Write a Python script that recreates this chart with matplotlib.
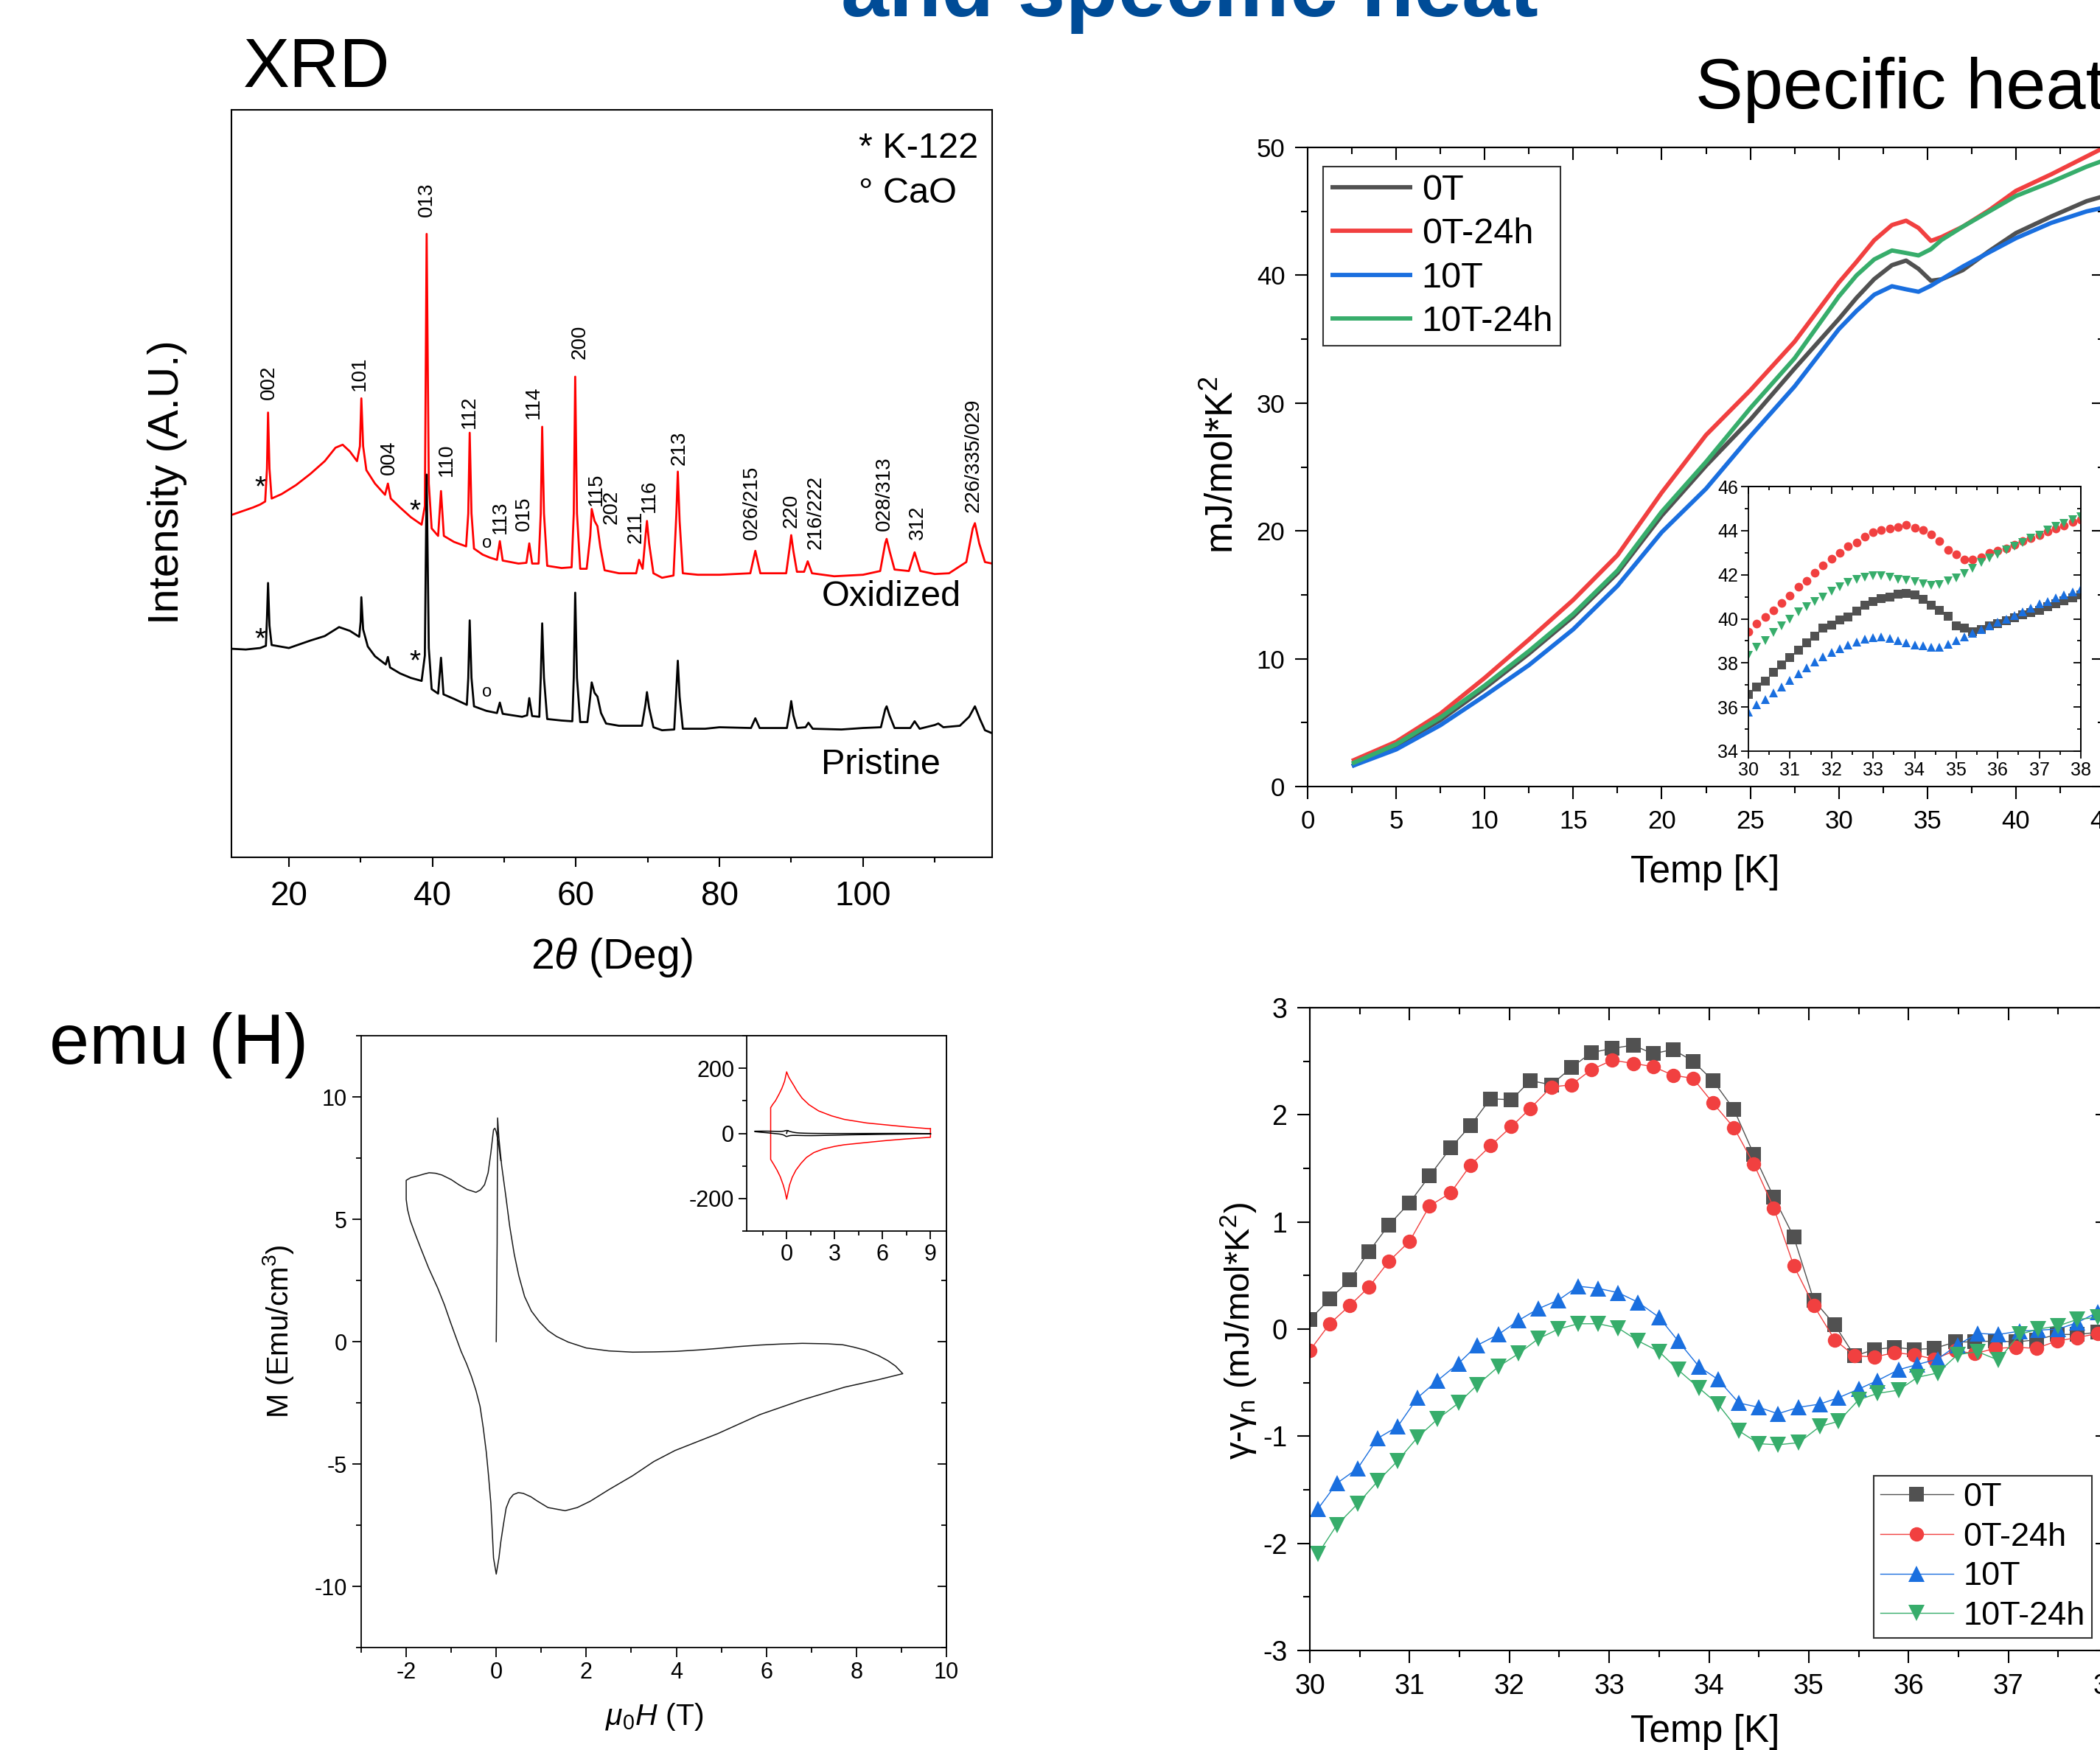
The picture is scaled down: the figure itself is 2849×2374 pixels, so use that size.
import matplotlib
matplotlib.use("Agg")
import matplotlib.pyplot as plt
from matplotlib.ticker import MultipleLocator, NullLocator

plt.rcParams['font.family'] = ['Liberation Sans', 'DejaVu Sans']
plt.rcParams['mathtext.fontset'] = 'custom'
plt.rcParams['mathtext.rm'] = 'Liberation Sans'
plt.rcParams['mathtext.it'] = 'Liberation Sans:italic'
plt.rcParams['mathtext.bf'] = 'Liberation Sans:bold'
plt.rcParams['axes.unicode_minus'] = False

# ======================= DATA =======================
# --- XRD, oxidized sample (red), vertices (arb. units 0-100)
xrd_ox_2theta = [12.0, 13.5, 15.0, 16.0, 16.7, 16.95, 17.1, 17.3, 17.6, 19.0, 21.0, 23.0, 25.0, 26.5,
                 27.5, 28.5, 29.5, 29.9, 30.1, 30.35, 30.8, 32.0, 33.4, 33.8, 34.2, 35.5, 37.0, 38.5,
                 38.95, 39.2, 39.5, 39.9, 40.8, 41.2, 41.6, 43.0, 44.7, 45.0, 45.2, 45.45, 45.8, 47.0,
                 48.0, 49.0, 49.4, 49.8, 52.0, 53.1, 53.5, 53.9, 54.8, 55.1, 55.3, 55.55, 56.0, 58.0,
                 59.4, 59.7, 59.9, 60.15, 60.6, 61.5, 62.0, 62.2, 62.6, 63.0, 63.4, 64.0, 66.0, 68.4,
                 68.8, 69.3, 69.7, 69.9, 70.2, 70.8, 72.0, 73.6, 74.0, 74.2, 74.45, 74.9, 77.0, 80.0,
                 84.3, 85.0, 85.7, 89.3, 89.8, 90.0, 90.3, 90.8, 91.8, 92.3, 92.9, 96.0, 100.0, 102.4,
                 103.1, 103.3, 103.7, 104.4, 106.4, 107.2, 108.0, 110.0, 112.0, 114.4, 115.3, 115.6,
                 116.2, 117.0, 118.0]
xrd_ox_int = [45.8, 46.3, 46.8, 47.2, 47.6, 52.0, 59.5, 52.0, 48.0, 48.6, 49.8, 51.3, 53.0, 54.8,
              55.2, 54.3, 53.0, 55.0, 61.4, 55.0, 51.8, 50.0, 48.5, 50.0, 48.0, 46.8, 45.5, 44.5,
              47.0, 83.4, 50.0, 44.0, 43.0, 49.0, 43.0, 42.2, 41.6, 46.0, 56.8, 46.0, 41.3, 40.5,
              40.1, 39.8, 42.3, 39.7, 39.3, 39.4, 42.0, 39.3, 39.3, 46.0, 57.6, 46.0, 39.0, 38.7,
              38.8, 46.0, 64.3, 46.0, 38.6, 38.6, 43.0, 46.6, 45.0, 44.3, 41.5, 38.4, 38.0, 38.0,
              39.8, 38.6, 43.0, 45.0, 42.0, 38.0, 37.4, 37.7, 46.0, 51.6, 45.0, 38.0, 37.8, 37.8,
              38.0, 41.0, 38.0, 38.0, 41.5, 43.1, 41.0, 38.2, 38.2, 39.6, 38.0, 37.6, 37.8, 38.3,
              42.0, 42.6, 41.0, 38.5, 38.3, 40.8, 38.3, 37.9, 38.0, 39.5, 44.0, 44.7,
              42.0, 39.5, 39.3]

# --- XRD, pristine sample (black)
xrd_pr_2theta = [12.0, 14.0, 16.0, 16.8, 16.95, 17.1, 17.3, 17.6, 20.0, 23.0, 25.0, 27.0, 28.5, 29.8,
                 30.0, 30.1, 30.35, 31.0, 32.0, 33.5, 33.8, 34.1, 35.5, 37.0, 38.5, 38.95, 39.2, 39.5,
                 39.9, 40.8, 41.2, 41.55, 43.0, 44.8, 45.0, 45.2, 45.45, 45.8, 47.5, 49.0, 49.4, 49.8,
                 52.5, 53.2, 53.5, 53.9, 54.9, 55.1, 55.3, 55.55, 56.0, 58.0, 59.5, 59.7, 59.9, 60.15,
                 60.6, 61.6, 62.0, 62.2, 62.6, 63.0, 63.5, 64.2, 66.0, 69.2, 69.7, 69.9, 70.2, 70.8,
                 72.0, 73.7, 74.0, 74.2, 74.45, 74.9, 78.0, 80.0, 84.4, 85.0, 85.6, 89.4, 89.8, 90.0,
                 90.3, 90.8, 92.0, 92.4, 93.0, 97.0, 100.0, 102.5, 103.1, 103.3, 103.7, 104.4, 106.6,
                 107.2, 107.9, 110.0, 110.5, 111.2, 113.5, 114.8, 115.6, 116.3, 117.0, 118.0]
xrd_pr_int = [27.9, 27.8, 28.0, 28.3, 32.0, 36.7, 31.0, 28.4, 28.0, 29.0, 29.6, 30.8, 30.3, 29.5,
              31.5, 34.8, 30.5, 28.2, 26.9, 25.8, 26.8, 25.4, 24.6, 24.0, 23.6, 27.0, 51.2, 28.0,
              22.5, 21.9, 26.7, 21.8, 21.2, 20.4, 24.0, 31.7, 24.0, 20.2, 19.6, 19.3, 20.7, 19.2,
              18.8, 19.0, 21.3, 18.9, 18.8, 24.0, 31.3, 24.0, 18.5, 18.3, 18.2, 24.0, 35.4, 24.0,
              18.1, 18.1, 21.5, 23.4, 22.0, 21.5, 19.3, 17.9, 17.6, 17.6, 20.5, 22.1, 20.0, 17.4,
              17.0, 17.1, 22.5, 26.3, 21.5, 17.2, 17.2, 17.4, 17.3, 18.6, 17.3, 17.3, 19.5, 20.9,
              19.0, 17.3, 17.4, 18.0, 17.2, 17.1, 17.3, 17.4, 19.8, 20.2, 19.0, 17.3, 17.3,
              18.2, 17.2, 17.7, 17.9, 17.4, 17.6, 18.8, 20.2, 18.5, 17.0, 16.6]

hkl_labels = ["002", "101", "004", "013", "110", "112", "113", "015", "114", "200", "115", "202",
              "211", "116", "213", "026/215", "220", "216/222", "028/313", "312", "226/335/029"]
hkl_pos = [17.2, 29.9, 34.0, 39.2, 42.0, 45.2, 49.5, 52.8, 54.1, 60.5, 62.8, 65.0,
           68.3, 70.2, 74.4, 84.5, 90.0, 93.4, 103.0, 107.6, 115.4]
hkl_base = [61.2, 62.4, 51.2, 85.7, 51.0, 57.4, 43.3, 43.7, 58.7, 66.7, 47.0, 44.6,
            42.0, 46.2, 52.5, 42.5, 44.1, 41.2, 43.7, 42.5, 46.2]

# --- Specific heat, main panel (mJ/mol*K^2 vs T)
sh_T = [2.5, 5, 7.5, 10, 12.5, 15, 17.5, 20, 22.5, 25, 27.5, 30, 31, 32, 33, 33.8, 34.5, 35.2,
        35.8, 37, 38.5, 40, 42, 44, 45]
sh_0T = [1.6, 3.2, 5.2, 7.7, 10.4, 13.3, 16.7, 21.2, 25.1, 28.7, 32.7, 36.58, 38.23, 39.70, 40.79,
         41.15, 40.5, 39.57, 39.68, 40.40, 41.9, 43.3, 44.6, 45.8, 46.2]
sh_0T24 = [2.0, 3.5, 5.7, 8.5, 11.5, 14.6, 18.1, 23.0, 27.5, 31.0, 34.8, 39.43, 41.05, 42.74, 43.93,
           44.27, 43.7, 42.69, 42.99, 43.8, 45.1, 46.6, 47.9, 49.3, 50.0]
sh_10T = [1.6, 2.9, 4.8, 7.1, 9.5, 12.3, 15.7, 19.9, 23.3, 27.4, 31.3, 35.78, 37.21, 38.48, 39.14,
          38.90, 38.71, 39.18, 39.68, 40.68, 41.8, 42.9, 44.1, 45.0, 45.3]
sh_10T24 = [1.8, 3.3, 5.4, 7.9, 10.6, 13.5, 16.9, 21.5, 25.4, 29.6, 33.5, 38.34, 39.99, 41.24, 41.94,
            41.74, 41.55, 42.04, 42.76, 43.8, 45.0, 46.2, 47.3, 48.5, 49.0]

# --- Specific heat, inset (30-38 K)
ins_T = [30.0, 30.2, 30.4, 30.6, 30.8, 31.0, 31.2, 31.4, 31.6, 31.8, 32.0, 32.2, 32.4, 32.6, 32.8,
         33.0, 33.2, 33.4, 33.6, 33.8, 34.0, 34.2, 34.4, 34.6, 34.8, 35.0, 35.2, 35.4, 35.6, 35.8,
         36.0, 36.2, 36.4, 36.6, 36.8, 37.0, 37.2, 37.4, 37.6, 37.8, 38.0]
ins_0T = [36.58, 36.90, 37.17, 37.56, 37.92, 38.23, 38.57, 38.90, 39.23, 39.57, 39.70, 39.96, 40.10,
          40.35, 40.63, 40.79, 40.93, 41.00, 41.13, 41.15, 41.10, 40.90, 40.63, 40.37, 40.12, 39.68,
          39.57, 39.43, 39.51, 39.68, 39.79, 39.90, 40.04, 40.18, 40.29, 40.40, 40.55, 40.68, 40.82,
          40.96, 41.07]
ins_0T24 = [39.43, 39.79, 40.10, 40.40, 40.71, 41.05, 41.46, 41.71, 42.10, 42.43, 42.74, 42.99, 43.30,
            43.47, 43.74, 43.93, 44.02, 44.08, 44.16, 44.27, 44.13, 44.02, 43.82, 43.52, 43.13, 42.91,
            42.69, 42.69, 42.80, 42.99, 43.08, 43.19, 43.35, 43.52, 43.65, 43.80, 43.97, 44.08, 44.24,
            44.38, 44.49]
ins_10T = [35.78, 36.09, 36.34, 36.65, 36.90, 37.21, 37.51, 37.79, 38.03, 38.29, 38.48, 38.66, 38.81,
           38.96, 39.07, 39.14, 39.18, 39.12, 39.01, 38.90, 38.81, 38.77, 38.70, 38.72, 38.84, 39.01,
           39.18, 39.35, 39.51, 39.68, 39.85, 40.00, 40.15, 40.33, 40.49, 40.68, 40.79, 40.96, 41.07,
           41.21, 41.35]
ins_10T24 = [38.34, 38.70, 39.01, 39.37, 39.68, 39.99, 40.31, 40.55, 40.77, 40.99, 41.24, 41.46, 41.66,
             41.80, 41.88, 41.94, 41.94, 41.88, 41.80, 41.74, 41.68, 41.59, 41.52, 41.57, 41.71, 41.85,
             42.04, 42.30, 42.57, 42.76, 42.93, 43.13, 43.30, 43.47, 43.65, 43.80, 44.02, 44.19, 44.33,
             44.49, 44.63]

# --- gamma - gamma_n panel
dg_T_a = [30.00, 30.20, 30.40, 30.59, 30.79, 31.00, 31.20, 31.41, 31.61, 31.81, 32.02, 32.21, 32.42,
          32.62, 32.82, 33.03, 33.24, 33.44, 33.64, 33.84, 34.04, 34.25, 34.45, 34.65, 34.85, 35.05,
          35.26, 35.46, 35.66, 35.86, 36.06, 36.26, 36.47, 36.66, 36.87, 37.08, 37.28, 37.49, 37.69,
          37.90]
dg_0T = [0.09, 0.28, 0.46, 0.72, 0.97, 1.18, 1.43, 1.69, 1.90, 2.15, 2.14, 2.32, 2.28, 2.44, 2.58,
         2.62, 2.65, 2.57, 2.61, 2.50, 2.32, 2.05, 1.63, 1.23, 0.86, 0.27, 0.04, -0.25, -0.19, -0.17,
         -0.19, -0.18, -0.12, -0.12, -0.11, -0.12, -0.10, -0.05, -0.05, -0.03]
dg_0T24 = [-0.20, 0.05, 0.22, 0.39, 0.63, 0.82, 1.15, 1.27, 1.53, 1.71, 1.89, 2.06, 2.26, 2.28, 2.42,
           2.51, 2.48, 2.45, 2.37, 2.34, 2.11, 1.88, 1.54, 1.13, 0.59, 0.22, -0.10, -0.25, -0.26,
           -0.22, -0.24, -0.28, -0.20, -0.23, -0.18, -0.17, -0.18, -0.11, -0.08, -0.04]
dg_T_b = [30.08, 30.27, 30.48, 30.68, 30.88, 31.08, 31.28, 31.49, 31.68, 31.89, 32.09, 32.29, 32.49,
          32.69, 32.89, 33.09, 33.29, 33.50, 33.69, 33.90, 34.09, 34.30, 34.50, 34.69, 34.90, 35.11,
          35.30, 35.50, 35.69, 35.90, 36.09, 36.29, 36.49, 36.69, 36.90, 37.11, 37.30, 37.50, 37.69,
          37.90]
dg_10T = [-1.68, -1.44, -1.30, -1.02, -0.91, -0.64, -0.48, -0.32, -0.15, -0.05, 0.08, 0.19, 0.27,
          0.40, 0.38, 0.34, 0.25, 0.11, -0.11, -0.35, -0.47, -0.69, -0.73, -0.79, -0.73, -0.70, -0.64,
          -0.56, -0.48, -0.38, -0.33, -0.28, -0.15, -0.04, -0.05, -0.02, -0.01, 0.00, 0.06, 0.16]
dg_10T24 = [-2.10, -1.83, -1.63, -1.42, -1.23, -1.01, -0.84, -0.69, -0.52, -0.35, -0.23, -0.09, 0.00,
            0.05, 0.05, 0.01, -0.11, -0.21, -0.38, -0.55, -0.70, -0.95, -1.07, -1.08, -1.06, -0.91,
            -0.86, -0.66, -0.60, -0.57, -0.45, -0.41, -0.24, -0.21, -0.29, -0.05, 0.00, 0.03, 0.09,
            0.11]

# --- M(H) loop (Emu/cm^3 vs T)
emu_H = [0.0, 0.02, 0.03, 0.06, 0.12, 0.21, 0.30, 0.40, 0.50, 0.63, 0.78, 0.96, 1.15, 1.34, 1.6, 2.0,
         2.5, 3.03, 3.5, 3.97, 4.5, 4.92, 5.4, 5.86, 6.3, 6.8, 7.36, 7.7, 7.93, 8.2, 8.49, 8.7, 8.87,
         9.03, 8.5, 7.74, 6.8, 5.86, 4.92, 3.97, 3.5, 3.03, 2.5, 2.09, 1.8, 1.53, 1.15, 0.9, 0.77, 0.6,
         0.49, 0.38, 0.30, 0.22, 0.16, 0.10, 0.06, 0.0, -0.06, -0.09, -0.12, -0.17, -0.22, -0.29,
         -0.36, -0.45, -0.55, -0.66, -0.78, -0.9, -1.02, -1.15, -1.30, -1.5, -1.68, -1.8, -1.91,
         -1.97, -2.0, -2.0, -1.9, -1.77, -1.6, -1.49, -1.35, -1.21, -1.0, -0.83, -0.65, -0.45, -0.35,
         -0.26, -0.18, -0.12, -0.06, -0.03, 0.0, 0.05, 0.1]
emu_M = [0.0, 4.0, 9.14, 8.3, 7.2, 5.98, 4.7, 3.57, 2.7, 1.84, 1.25, 0.81, 0.45, 0.21, -0.02, -0.26,
         -0.38, -0.43, -0.42, -0.40, -0.34, -0.28, -0.20, -0.14, -0.10, -0.07, -0.09, -0.13, -0.22,
         -0.35, -0.57, -0.78, -1.0, -1.31, -1.55, -1.86, -2.38, -2.98, -3.76, -4.45, -4.9, -5.48,
         -6.05, -6.52, -6.78, -6.91, -6.78, -6.5, -6.34, -6.2, -6.17, -6.25, -6.43, -6.8, -7.47, -8.2,
         -8.84, -9.5, -8.84, -7.7, -6.6, -5.5, -4.53, -3.5, -2.64, -2.0, -1.43, -0.9, -0.40, 0.2, 0.81,
         1.5, 2.19, 3.0, 3.83, 4.4, 4.95, 5.4, 5.81, 6.59, 6.7, 6.76, 6.85, 6.9, 6.88, 6.81, 6.62,
         6.41, 6.22, 6.10, 6.2, 6.41, 6.9, 7.71, 8.66, 8.72, 8.57, 8.1, 7.4]
emu_red_H = [9.0, 7.5, 6.24, 5.0, 3.6, 2.8, 2.0, 1.4, 0.97, 0.65, 0.45, 0.25, 0.13, 0.0, -0.13, -0.3,
             -0.47, -0.7, -0.87, -1.0, -1.0, -0.8, -0.6, -0.4, -0.21, -0.1, 0.0, 0.1, 0.18, 0.35,
             0.58, 0.9, 1.24, 1.7, 2.29, 3.0, 3.6, 5.0, 6.24, 7.5, 9.0, 9.0]
emu_red_M = [14, 20, 26, 32, 43, 54, 69, 88, 108, 130, 147, 163, 173, 189, 160, 138, 121, 100, 89,
             79, -80, -96, -113, -133, -159, -178, -202, -178, -159, -135, -113, -92, -74, -59, -48,
             -40, -35, -28, -22, -17, -12, 14]

series_names = ["0T", "0T-24h", "10T", "10T-24h"]
series_colors = ["#515151", "#F14040", "#1A6FDF", "#37AD6B"]
series_markers = ["s", "o", "^", "v"]

# ======================= FIGURE =======================
W, H = 2849, 2374
fig = plt.figure(figsize=(W / 100, H / 100), dpi=100)


def axes_px(l, t, r, b):
    return fig.add_axes([l / W, 1 - b / H, (r - l) / W, (b - t) / H])


def ftext(x, y, s, **kw):
    return fig.text(x / W, 1 - y / H, s, **kw)


def style(ax, xmaj, xmin, ymaj, ymin, fs, L=12, lw=1.5, pad=6, top=True, right=True):
    for s in ax.spines.values():
        s.set_linewidth(lw)
    ax.xaxis.set_major_locator(MultipleLocator(xmaj))
    ax.xaxis.set_minor_locator(MultipleLocator(xmin))
    ax.yaxis.set_major_locator(MultipleLocator(ymaj))
    ax.yaxis.set_minor_locator(MultipleLocator(ymin))
    ax.tick_params(which='major', direction='out', length=L, width=lw, labelsize=fs, pad=pad)
    ax.tick_params(which='minor', direction='out', length=L * 0.55, width=lw)
    if top:
        sx = ax.secondary_xaxis('top')
        sx.xaxis.set_major_locator(MultipleLocator(xmaj))
        sx.xaxis.set_minor_locator(MultipleLocator(xmin))
        sx.tick_params(which='both', direction='in', labeltop=False, width=lw)
        sx.tick_params(which='major', length=L)
        sx.tick_params(which='minor', length=L * 0.55)
        for s in sx.spines.values():
            s.set_linewidth(lw)
    if right:
        sy = ax.secondary_yaxis('right')
        sy.yaxis.set_major_locator(MultipleLocator(ymaj))
        sy.yaxis.set_minor_locator(MultipleLocator(ymin))
        sy.tick_params(which='both', direction='in', labelright=False, width=lw)
        sy.tick_params(which='major', length=L)
        sy.tick_params(which='minor', length=L * 0.55)
        for s in sy.spines.values():
            s.set_linewidth(lw)


# ---------------- titles ----------------
ftext(1141, 22, "and specific heat", fontsize=84, fontweight='bold', color='#004C97', va='baseline')
ftext(330, 118, "XRD", fontsize=68, va='baseline')
ftext(2300, 147, "Specific heat", fontsize=70, va='baseline')
ftext(67, 1443, "emu (H)", fontsize=70, va='baseline')

# ---------------- XRD ----------------
ax1 = axes_px(314, 149, 1346, 1163)
ax1.plot(xrd_ox_2theta, xrd_ox_int, color='#FF0000', lw=2.0)
ax1.plot(xrd_pr_2theta, xrd_pr_int, color='black', lw=2.0)
ax1.set_xlim(12, 118)
ax1.set_ylim(0, 100)
ax1.xaxis.set_major_locator(MultipleLocator(20))
ax1.xaxis.set_minor_locator(MultipleLocator(10))
ax1.yaxis.set_major_locator(NullLocator())
ax1.tick_params(which='major', direction='out', length=9, width=1.5, labelsize=33, pad=13)
ax1.tick_params(which='minor', direction='out', length=5, width=1.5)
for s in ax1.spines.values():
    s.set_linewidth(1.5)
for lab, xp, yb in zip(hkl_labels, hkl_pos, hkl_base):
    ax1.text(xp, yb, lab, rotation=90, ha='center', va='bottom', fontsize=20)
for xs, ys in [(16.05, 48.4), (37.6, 45.2), (16.05, 28.1), (37.6, 25.1)]:
    ax1.text(xs, ys, "*", ha='center', va='baseline', fontsize=28)
for xs, ys in [(47.6, 41.4), (47.6, 21.5)]:
    ax1.text(xs, ys, "o", ha='center', va='baseline', fontsize=17)
ax1.text(99.4, 94.8, "* K-122", va='center', fontsize=35)
ax1.text(99.4, 88.8, "° CaO", va='center', fontsize=35)
ax1.text(94.2, 34.9, "Oxidized", va='center', fontsize=35)
ax1.text(94.2, 12.4, "Pristine", va='center', fontsize=35)
ftext(227, 654, "Intensity (A.U.)", rotation=90, ha='center', va='center', fontsize=42)
ftext(830, 1299, r"$\mathit{2\theta}$ (Deg)", ha='center', va='center', fontsize=41)

# ---------------- Specific heat main ----------------
ax2 = axes_px(1774, 200, 2855, 1067)
for ys, c, n in zip([sh_0T, sh_0T24, sh_10T, sh_10T24], series_colors, series_names):
    ax2.plot(sh_T, ys, color=c, lw=4.2, label=n, solid_capstyle='butt')
ax2.set_xlim(0, 45)
ax2.set_ylim(0, 50)
style(ax2, 5, 2.5, 10, 5, 25, L=12, pad=10)
leg = ax2.legend(loc='upper left', bbox_to_anchor=(0.0194, 0.970), borderaxespad=0, frameon=True,
                 fancybox=False, edgecolor='black', fontsize=35, handlelength=2.3,
                 handletextpad=0.25, labelspacing=0.3, borderpad=0.2)
leg.get_frame().set_linewidth(1.5)
ftext(1659, 631, r"mJ/mol*K$^2$", rotation=90, ha='center', va='center', fontsize=37)
ftext(2313, 1183, "Temp [K]", ha='center', va='center', fontsize=37)

# inset
ax3 = axes_px(2372, 660, 2823, 1019)
for ys, c, m in zip([ins_0T, ins_0T24, ins_10T, ins_10T24], series_colors, series_markers):
    ax3.plot(ins_T, ys, linestyle='none', marker=m, color=c, markersize=8.5, markeredgewidth=0)
ax3.set_xlim(30, 38)
ax3.set_ylim(34, 46)
style(ax3, 1, 0.5, 2, 1, 18, L=7, lw=1.3, pad=3)

# ---------------- M(H) ----------------
ax4 = axes_px(490, 1405, 1284, 2235)
ax4.plot(emu_H, emu_M, color='#1a1a1a', lw=1.1)
ax4.set_xlim(-3, 10)
ax4.set_ylim(-12.5, 12.5)
style(ax4, 2, 1, 5, 2.5, 22, L=9, lw=1.3, pad=5, top=False)
ftext(378, 1806, r"M (Emu/cm$^3$)", rotation=90, ha='center', va='center', fontsize=29)
ftext(888, 2329, r"$\mathit{\mu_0H}$ (T)", ha='center', va='center', fontsize=29.5)

ax5 = axes_px(1013, 1405, 1284, 1670)
ax5.plot(emu_red_H, emu_red_M, color='#FF0000', lw=1.1)
ax5.plot(emu_H, emu_M, color='black', lw=1.1)
ax5.set_xlim(-2.5, 10)
ax5.set_ylim(-300, 300)
style(ax5, 3, 1.5, 200, 100, 22, L=8, lw=1.3, pad=4, top=False, right=False)

# ---------------- gamma - gamma_n ----------------
ax6 = axes_px(1777, 1367, 2860, 2239)
for tt, ys, c, m, n in zip([dg_T_a, dg_T_a, dg_T_b, dg_T_b], [dg_0T, dg_0T24, dg_10T, dg_10T24],
                           series_colors, series_markers, series_names):
    ms = 14 if m in ('s', 'o') else 16
    ax6.plot(tt, ys, color=c, lw=1.0, marker=m, markersize=ms, markeredgewidth=0, label=n)
ax6.set_xlim(30, 38)
ax6.set_ylim(-3, 3)
style(ax6, 1, 0.5, 1, 0.5, 27, L=12, pad=10)
leg2 = ax6.legend(loc='lower left', bbox_to_anchor=(0.706, 0.0195), borderaxespad=0, frameon=True,
                  fancybox=False, edgecolor='black', fontsize=32.5, handlelength=2.2,
                  handletextpad=0.3, labelspacing=0.28, borderpad=0.2, numpoints=1)
leg2.get_frame().set_linewidth(1.5)
ftext(1681, 1806, r"γ-γ$_\mathrm{n}$ (mJ/mol*K$^2$)", rotation=90, ha='center', va='center',
      fontsize=34)
ftext(2313, 2349, "Temp [K]", ha='center', va='center', fontsize=37)

fig.savefig("out.png", dpi=100)
